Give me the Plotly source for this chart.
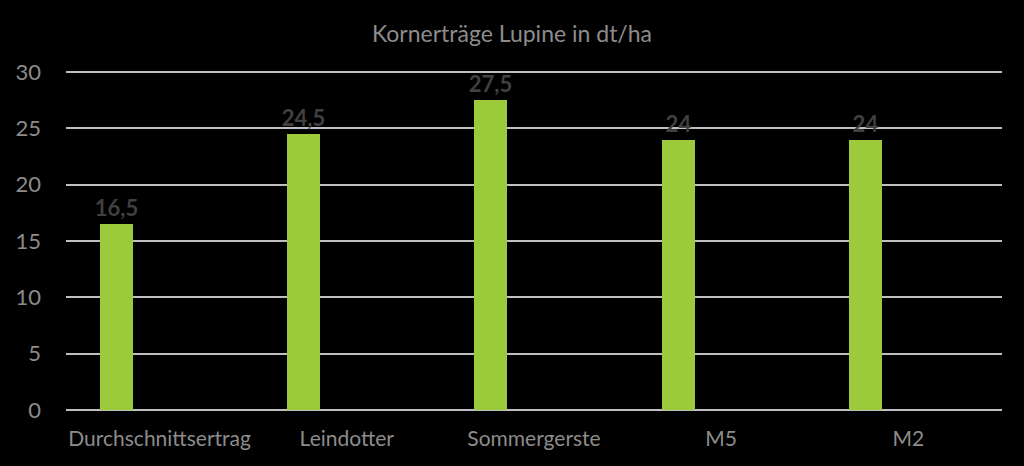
import plotly.graph_objects as go

categories = ["Durchschnittsertrag", "Leindotter", "Sommergerste", "M5", "M2"]
values = [16.5, 24.5, 27.5, 24, 24]
tick_vals = [0, 5, 10, 15, 20, 25, 30]

fig = go.Figure()
fig.add_trace(go.Bar(
    x=categories, y=values,
    width=0.176, offset=-0.318,
    marker=dict(color="#9BCB3B", line=dict(width=0)),
    texttemplate="%{y}",
    textposition="outside",
    constraintext="none",
    textfont=dict(family="Lato", size=22, color="#404040", weight="bold"),
    cliponaxis=False,
))

fig.update_layout(
    width=1024, height=466,
    paper_bgcolor="black", plot_bgcolor="black",
    margin=dict(l=66, r=22, t=68, b=56),
    title=dict(text="Kornerträge Lupine in dt/ha", x=0.5, xanchor="center",
               y=1 - 34 / 466, yanchor="middle",
               font=dict(family="Lato", size=23, color="#8c8c8c")),
    showlegend=False,
    separators=",.",
    bargap=0,
    xaxis=dict(showgrid=False, showline=False, ticks="",
               ticklabelstandoff=14,
               tickfont=dict(family="Lato", size=21, color="#8c8c8c")),
    yaxis=dict(range=[0, 30.35], tickvals=tick_vals, showgrid=True,
               gridcolor="#bfbfbf", gridwidth=1.5, zeroline=True,
               zerolinecolor="#bfbfbf", zerolinewidth=1.5, showline=False,
               ticks="", ticklabelstandoff=24,
               tickfont=dict(family="Lato", size=22, color="#8c8c8c")),
)

fig.write_html("out.html")
